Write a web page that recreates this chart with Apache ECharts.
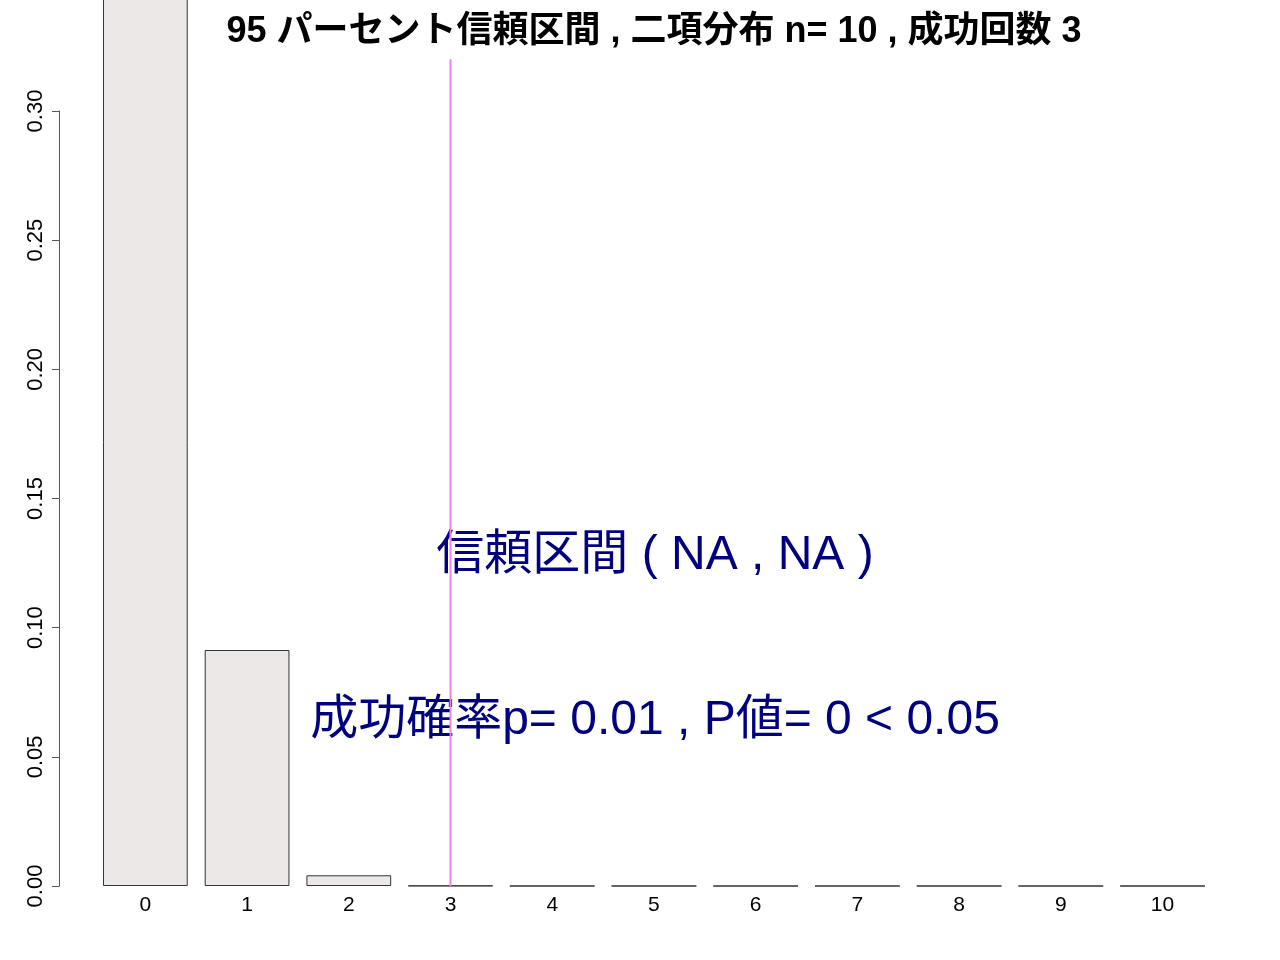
<!DOCTYPE html>
<html>
<head>
<meta charset="utf-8">
<script src="https://cdn.jsdelivr.net/npm/echarts@6/dist/echarts.min.js"></script>
<style>html,body{margin:0;padding:0;background:#fff}#c{width:1280px;height:960px}</style>
</head>
<body>
<div id="c"></div>
<script>
// Binomial distribution n = 10, p = 0.01
var categories = ['0','1','2','3','4','5','6','7','8','9','10'];
var probabilities = [0.904382, 0.091352, 0.0041524, 0.00011185, 0.000001977, 0.00000002396,
                     2.02e-10, 1.17e-12, 4.4e-15, 9.9e-18, 1e-20];
var yTicks = [0, 0.05, 0.10, 0.15, 0.20, 0.25, 0.30];
var observedCount = '3';
var lineRange = [0, 0.32];
var titleText = '95 パーセント信頼区間 , 二項分布 n= 10 , 成功回数 3';
var ciText = '信頼区間 ( NA , NA )';
var pText = '成功確率p= 0.01 , P値= 0 < 0.05';

var FONT = '"Liberation Sans", Arial, "Noto Sans CJK JP", sans-serif';
var chart = echarts.init(document.getElementById('c'), null, {renderer: 'canvas'});
var option = {
  animation: false,
  backgroundColor: '#ffffff',
  grid: {left: 94.5, right: 66.6, top: 111, bottom: 74, containLabel: false},
  xAxis: {
    type: 'category',
    data: categories,
    boundaryGap: true,
    axisLine: {show: false},
    axisTick: {show: false},
    axisLabel: {fontSize: 21, color: '#000', fontFamily: FONT, margin: 9, interval: 0}
  },
  yAxis: {
    type: 'value',
    min: yTicks[0],
    max: yTicks[yTicks.length - 1],
    interval: 0.05,
    offset: 35.5,
    splitLine: {show: false},
    axisLine: {show: true, lineStyle: {color: '#555', width: 1}},
    axisTick: {show: true, length: 7, lineStyle: {color: '#555', width: 1}},
    axisLabel: {
      rotate: 90, fontSize: 22, color: '#000', fontFamily: FONT, margin: 12,
      formatter: function (v) { return v.toFixed(2); }
    }
  },
  graphic: [
    {type: 'text', x: 654, y: 32, style: {text: titleText, fill: '#000', font: 'bold 36px ' + FONT, align: 'center', verticalAlign: 'middle'}},
    {type: 'text', x: 655, y: 556, style: {text: ciText, fill: '#000080', font: '48px ' + FONT, align: 'center', verticalAlign: 'middle'}},
    {type: 'text', x: 655, y: 721, style: {text: pText, fill: '#000080', font: '48px ' + FONT, align: 'center', verticalAlign: 'middle'}}
  ],
  series: [
    {
      type: 'bar',
      data: probabilities,
      clip: false,
      barCategoryGap: '16.67%',
      itemStyle: {color: '#ECE8E7', borderColor: '#333', borderWidth: 1},
      z: 2
    },
    {
      type: 'line',
      data: lineRange.map(function (v) { return [observedCount, v]; }),
      clip: false,
      showSymbol: false,
      symbol: 'none',
      lineStyle: {color: '#EE82EE', width: 2},
      z: 5
    }
  ]
};
chart.setOption(option);
</script>
</body>
</html>
